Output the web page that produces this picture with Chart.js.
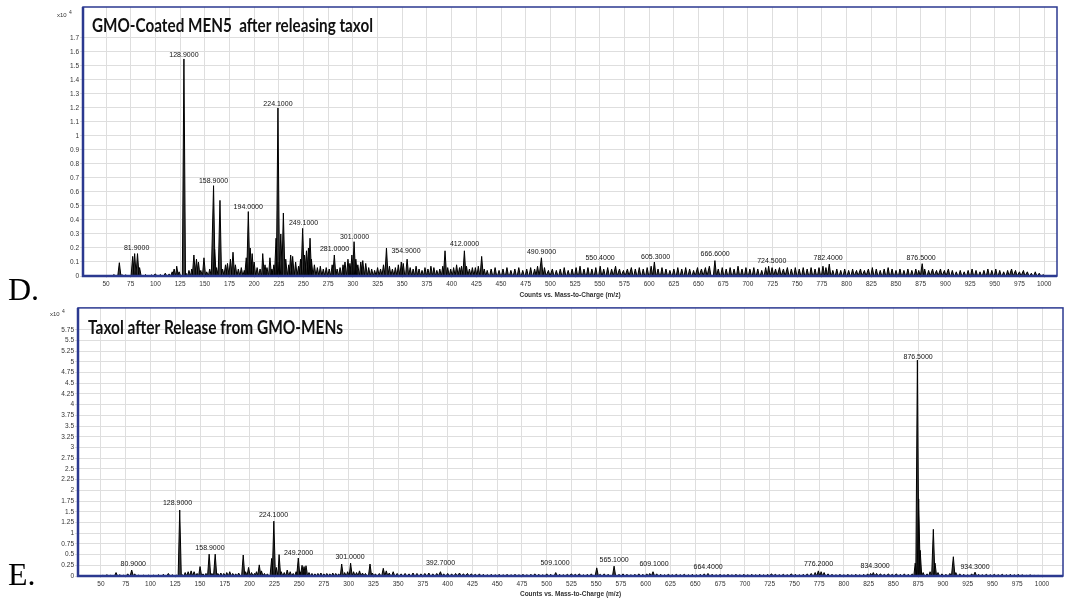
<!DOCTYPE html>
<html>
<head>
<meta charset="utf-8">
<script src="https://cdn.jsdelivr.net/npm/chart.js@4/dist/chart.umd.min.js"></script>
<style>
  body { margin: 0; background: #fff; width: 1066px; height: 607px; position: relative; overflow: hidden; }
  canvas { position: absolute; left: 0; }
  #chart_d { top: 0; }
  #chart_e { top: 303px; }
  .panel_tag { position: absolute; left: 8px; font-family: "Liberation Serif", serif; font-size: 32px; line-height: 32px; color: #000; }
</style>
</head>
<body>
<canvas id="chart_d" width="1066" height="303"></canvas>
<canvas id="chart_e" width="1066" height="304"></canvas>
<div class="panel_tag" style="top:273px">D.</div>
<div class="panel_tag" style="top:558px">E.</div>
<script>
// x axis ticks (m/z), same on both panels
const xTicks = [50, 75, 100, 125, 150, 175, 200, 225, 250, 275, 300, 325, 350, 375, 400, 425, 450, 475,
                500, 525, 550, 575, 600, 625, 650, 675, 700, 725, 750, 775, 800, 825, 850, 875, 900, 925, 950, 975, 1000];

// ---- D : GMO-Coated MEN5 after releasing taxol (counts x10^4) ----
const dYTicks = [0, 0.1, 0.2, 0.3, 0.4, 0.5, 0.6, 0.7, 0.8, 0.9, 1, 1.1, 1.2, 1.3, 1.4, 1.5, 1.6, 1.7];
const dMz = [52, 58, 63.5, 66, 70, 77, 79, 81.9, 84, 90, 96, 100, 105, 110, 114, 117, 119, 121.6, 124, 128.9,
  131, 134, 136.8, 139, 141.6, 143.6, 146, 149.2, 152, 155, 158.9, 160, 162, 165.4, 168, 171, 173, 176, 178.6, 181,
  184, 187, 190, 192, 194.1, 196, 198, 200, 203, 206, 208.7, 211, 213, 216, 218, 220, 222.2, 224.1, 225.5, 227,
  229.6, 232, 235, 237, 239, 242, 245, 247, 249.1, 251, 253, 255, 256.6, 258, 261, 264, 267, 270, 273, 276,
  279, 281.2, 284, 287, 290, 292, 295, 297, 299, 301.2, 303, 305, 308, 310, 313, 316, 319, 322, 325, 328,
  331, 334, 337, 340, 343, 346, 349, 351, 354.9, 358, 361, 364, 367, 370, 373, 376, 379, 382, 385, 388,
  391, 393.3, 396, 399, 402, 405, 408, 410, 412.9, 415, 418, 421, 424, 427, 430.4, 433, 436, 440, 444, 448,
  452, 456, 460, 464, 468, 472, 476, 480, 484, 487, 490.9, 494, 498, 502, 506, 510, 514, 518, 522, 526,
  530, 534, 538, 542, 546, 550.4, 554, 558, 562, 566, 570, 574, 578, 582, 586, 590, 594, 598, 602, 605.3,
  609, 613, 617, 621, 625, 629, 633, 637, 641, 645, 649, 653, 657, 661, 666.6, 670, 674, 678, 682, 686,
  690, 694, 698, 702, 706, 710, 714, 718, 721, 724.5, 728, 732, 736, 740, 744, 748, 752, 756, 760, 764,
  768, 772, 776, 779, 782.4, 786, 790, 794, 798, 802, 806, 810, 814, 818, 822, 826, 830, 834, 838, 842,
  846, 850, 854, 858, 862, 866, 870, 873, 876.5, 879, 883, 887, 891, 895, 899, 903, 907, 911, 915, 919,
  923, 927, 931, 935, 939, 943, 947, 951, 955, 959, 963, 967, 971, 975, 979, 983, 987, 991, 995, 999];
const dCounts = [0.005, 0.01, 0.095, 0.01, 0.008, 0.14, 0.16, 0.16, 0.06, 0.01, 0.008, 0.015, 0.01, 0.02, 0.015, 0.03, 0.05, 0.07, 0.03, 1.55,
  0.02, 0.04, 0.05, 0.15, 0.12, 0.1, 0.04, 0.13, 0.03, 0.05, 0.645, 0.19, 0.06, 0.54, 0.05, 0.08, 0.09, 0.12, 0.17, 0.08,
  0.05, 0.06, 0.04, 0.13, 0.46, 0.2, 0.16, 0.1, 0.06, 0.05, 0.16, 0.08, 0.06, 0.13, 0.05, 0.08, 0.27, 1.2, 0.1, 0.3,
  0.45, 0.12, 0.08, 0.15, 0.14, 0.1, 0.07, 0.12, 0.34, 0.15, 0.18, 0.2, 0.27, 0.12, 0.08, 0.06, 0.07, 0.05, 0.06, 0.05,
  0.08, 0.15, 0.05, 0.06, 0.08, 0.1, 0.12, 0.09, 0.15, 0.245, 0.12, 0.08, 0.1, 0.11, 0.09, 0.06, 0.05, 0.04, 0.06, 0.05,
  0.08, 0.2, 0.07, 0.05, 0.06, 0.08, 0.1, 0.09, 0.12, 0.06, 0.05, 0.07, 0.05, 0.04, 0.06, 0.05, 0.07, 0.06, 0.04, 0.05,
  0.07, 0.18, 0.06, 0.05, 0.06, 0.08, 0.06, 0.07, 0.18, 0.07, 0.05, 0.06, 0.06, 0.07, 0.14, 0.05, 0.04, 0.05, 0.06, 0.04,
  0.05, 0.06, 0.04, 0.05, 0.06, 0.04, 0.05, 0.06, 0.05, 0.07, 0.13, 0.06, 0.04, 0.05, 0.04, 0.05, 0.06, 0.04, 0.05, 0.06,
  0.07, 0.05, 0.06, 0.05, 0.06, 0.07, 0.05, 0.06, 0.05, 0.07, 0.05, 0.04, 0.05, 0.06, 0.05, 0.06, 0.05, 0.06, 0.07, 0.1,
  0.05, 0.06, 0.05, 0.04, 0.05, 0.06, 0.05, 0.06, 0.05, 0.04, 0.06, 0.05, 0.06, 0.07, 0.11, 0.05, 0.06, 0.05, 0.06, 0.05,
  0.07, 0.05, 0.06, 0.05, 0.06, 0.05, 0.04, 0.06, 0.07, 0.06, 0.05, 0.06, 0.05, 0.06, 0.05, 0.06, 0.05, 0.06, 0.05, 0.06,
  0.05, 0.06, 0.07, 0.06, 0.085, 0.04, 0.05, 0.04, 0.05, 0.04, 0.05, 0.04, 0.05, 0.04, 0.05, 0.06, 0.05, 0.04, 0.05, 0.06,
  0.05, 0.04, 0.05, 0.04, 0.05, 0.04, 0.05, 0.04, 0.088, 0.05, 0.04, 0.05, 0.04, 0.05, 0.04, 0.05, 0.04, 0.03, 0.04, 0.03,
  0.04, 0.05, 0.04, 0.03, 0.04, 0.05, 0.04, 0.05, 0.04, 0.03, 0.04, 0.05, 0.04, 0.03, 0.04, 0.03, 0.02, 0.03, 0.02, 0.01];
const dLabelText = ["81.9000", "128.9000", "158.9000", "194.0000", "224.1000", "249.1000", "281.0000", "301.0000", "354.9000",
  "412.0000", "490.9000", "550.4000", "605.3000", "666.6000", "724.5000", "782.4000", "876.5000"];
const dLabelMz = [81, 128.9, 158.9, 194, 224.1, 250, 281.4, 301.7, 353.8, 413, 491, 550.3, 606.6, 666.8, 724.2, 781.2, 875.4];
const dLabelY = [0.2, 1.58, 0.68, 0.49, 1.23, 0.38, 0.19, 0.28, 0.18, 0.23, 0.17, 0.13, 0.135, 0.16, 0.108, 0.13, 0.13];

// ---- E : Taxol after Release from GMO-MENs (counts x10^4) ----
const eYTicks = [0, 0.25, 0.5, 0.75, 1, 1.25, 1.5, 1.75, 2, 2.25, 2.5, 2.75, 3, 3.25, 3.5, 3.75, 4, 4.25, 4.5, 4.75,
  5, 5.25, 5.5, 5.75];
const eMz = [52, 56, 60, 65.2, 69, 73, 77, 81, 84, 88, 93, 98, 103, 108, 113, 118, 122, 126, 129.5, 132,
  135, 138, 141, 144, 147, 150, 153, 156, 159.2, 162, 165.3, 168, 171, 174, 177, 180, 183, 186, 189, 193.6,
  196, 199, 202, 205, 207, 209.8, 212, 215, 218, 222.3, 224.5, 227, 229.8, 232, 235, 238, 241, 244, 247, 249.2,
  251, 253, 255, 257, 260, 263, 266, 269, 272, 275, 278, 281, 284, 287, 290, 293, 296, 299, 302, 305,
  308, 311, 314, 317, 321.6, 324, 327, 331, 335, 338, 341, 345, 349, 353, 357, 361, 365, 369, 373, 377,
  381, 385, 389, 392.7, 396, 400, 404, 408, 412, 416, 420, 424, 428, 432, 436, 440, 444, 448, 452, 456,
  460, 464, 468, 472, 476, 480, 484, 488, 492, 496, 500, 504, 509.1, 513, 517, 521, 525, 529, 533, 537,
  541, 545, 550.5, 554, 558, 562, 568, 573, 577, 581, 585, 589, 593, 597, 601, 604, 607.3, 611, 615, 619,
  623, 627, 631, 635, 639, 643, 647, 651, 655, 659, 662.8, 667, 671, 675, 679, 683, 687, 691, 695, 699,
  703, 707, 711, 715, 719, 723, 727, 731, 735, 739, 743, 747, 751, 755, 759, 763, 767, 771, 774.2, 777,
  780, 784, 788, 792, 796, 800, 804, 808, 812, 816, 820, 824, 827, 829.7, 833, 837, 841, 845, 849, 853,
  857, 861, 865, 869, 872, 874.2, 875.5, 877, 880, 884, 887, 890.3, 892, 895, 899, 903, 907, 910.5, 913, 917,
  921, 925, 929, 932.4, 936, 940, 944, 948, 952, 956, 960, 964, 968, 972, 976, 980, 984, 988, 992, 996];
const eCounts = [0.02, 0.03, 0.02, 0.08, 0.03, 0.02, 0.05, 0.14, 0.05, 0.02, 0.02, 0.02, 0.02, 0.03, 0.04, 0.06, 0.03, 0.02, 1.54, 0.03,
  0.08, 0.1, 0.12, 0.1, 0.06, 0.22, 0.05, 0.06, 0.51, 0.06, 0.51, 0.06, 0.07, 0.06, 0.08, 0.1, 0.06, 0.05, 0.07, 0.49,
  0.1, 0.2, 0.08, 0.06, 0.1, 0.26, 0.12, 0.06, 0.05, 0.41, 1.28, 0.2, 0.5, 0.1, 0.08, 0.14, 0.1, 0.06, 0.1, 0.42,
  0.1, 0.25, 0.22, 0.24, 0.08, 0.06, 0.05, 0.06, 0.07, 0.05, 0.06, 0.05, 0.07, 0.06, 0.05, 0.28, 0.08, 0.1, 0.3, 0.1,
  0.08, 0.12, 0.07, 0.06, 0.28, 0.07, 0.05, 0.06, 0.18, 0.12, 0.07, 0.1, 0.06, 0.05, 0.06, 0.05, 0.07, 0.06, 0.05, 0.06,
  0.07, 0.05, 0.06, 0.1, 0.05, 0.06, 0.05, 0.06, 0.07, 0.05, 0.06, 0.05, 0.04, 0.05, 0.04, 0.03, 0.04, 0.03, 0.04, 0.03,
  0.04, 0.03, 0.04, 0.03, 0.04, 0.03, 0.04, 0.05, 0.04, 0.03, 0.05, 0.04, 0.08, 0.04, 0.03, 0.04, 0.05, 0.04, 0.05, 0.03,
  0.04, 0.05, 0.19, 0.04, 0.05, 0.04, 0.23, 0.04, 0.05, 0.04, 0.03, 0.04, 0.05, 0.04, 0.05, 0.06, 0.1, 0.05, 0.04, 0.03,
  0.04, 0.03, 0.04, 0.03, 0.04, 0.03, 0.04, 0.03, 0.04, 0.05, 0.06, 0.04, 0.03, 0.04, 0.03, 0.04, 0.03, 0.04, 0.03, 0.04,
  0.03, 0.04, 0.03, 0.04, 0.03, 0.04, 0.05, 0.04, 0.03, 0.04, 0.03, 0.05, 0.04, 0.03, 0.04, 0.05, 0.06, 0.08, 0.12, 0.1,
  0.08, 0.05, 0.04, 0.03, 0.04, 0.03, 0.04, 0.03, 0.04, 0.03, 0.04, 0.05, 0.06, 0.08, 0.06, 0.05, 0.04, 0.05, 0.04, 0.05,
  0.04, 0.05, 0.04, 0.05, 0.3, 5.04, 1.8, 0.6, 0.08, 0.05, 0.1, 1.09, 0.3, 0.08, 0.05, 0.04, 0.06, 0.45, 0.08, 0.05,
  0.04, 0.03, 0.05, 0.09, 0.04, 0.03, 0.04, 0.03, 0.04, 0.03, 0.04, 0.03, 0.04, 0.03, 0.04, 0.03, 0.02, 0.03, 0.02, 0.02];
const eLabelText = ["80.9000", "128.9000", "158.9000", "224.1000", "249.2000", "301.0000", "392.7000", "509.1000", "565.1000",
  "609.1000", "664.4000", "776.2000", "834.3000", "876.5000", "934.3000"];
const eLabelMz = [82.6, 127.3, 160, 224.2, 249.4, 301.4, 392.8, 508.4, 568, 608.3, 662.9, 774.4, 831.5, 874.9, 932.4];
const eLabelY = [0.28, 1.71, 0.65, 1.42, 0.53, 0.44, 0.3, 0.3, 0.37, 0.29, 0.22, 0.27, 0.24, 5.12, 0.22];

const frameColor = "#2b3990";

// each peak becomes a narrow stick (up and back down to the baseline)
function stick_points(mz, counts){
    let pts = [];
    for (let i = 0; i < mz.length; i++){
        pts.push({x: mz[i] - 1.6, y: 0});
        pts.push({x: mz[i],       y: counts[i]});
        pts.push({x: mz[i] + 1.6, y: 0});
    }
    return pts;
}

// labels, frame, panel title and the x10^4 marker
const spectrumDecor = {
    id: "spectrumDecor",
    afterDatasetsDraw(chart, args, opts){
        const ctx = chart.ctx;
        const a = chart.chartArea;
        const xs = chart.scales.x;
        const ys = chart.scales.y;
        ctx.save();

        ctx.fillStyle = "#111";
        ctx.font = '7px "Liberation Sans"';
        ctx.textAlign = "center";
        ctx.textBaseline = "middle";
        for (let i = 0; i < opts.labelText.length; i++){
            ctx.fillText(opts.labelText[i], xs.getPixelForValue(opts.labelMz[i]), ys.getPixelForValue(opts.labelY[i]));
        }

        ctx.strokeStyle = frameColor;
        ctx.lineWidth = 1.5;
        ctx.strokeRect(a.left, a.top, a.right - a.left, a.bottom - a.top);
        ctx.lineWidth = 2.5;
        ctx.beginPath();
        ctx.moveTo(a.left, a.top);
        ctx.lineTo(a.left, a.bottom);
        ctx.lineTo(a.right, a.bottom);
        ctx.stroke();

        // title, squeezed to the width it has in the figure
        ctx.fillStyle = "#111";
        ctx.font = "bold 18px Lato";
        ctx.textAlign = "left";
        ctx.textBaseline = "alphabetic";
        let w = ctx.measureText(opts.title).width;
        ctx.translate(a.left + opts.titleDx, a.top + opts.titleDy);
        ctx.scale(opts.titleWidth / w, 1);
        ctx.fillText(opts.title, 0, 0);
        ctx.restore();

        ctx.save();
        ctx.fillStyle = "#333";
        ctx.font = '6px "Liberation Sans"';
        ctx.textAlign = "left";
        ctx.textBaseline = "middle";
        ctx.fillText("x10", a.left + opts.unitDx, a.top + opts.unitDy);
        ctx.font = '5px "Liberation Sans"';
        ctx.fillText("4", a.left + opts.unitDx + 12, a.top + opts.unitDy - 2);
        ctx.restore();
    }
};

function draw_spectrum(canvasId, mz, counts, yTicks, cfg){
    const ctx = document.getElementById(canvasId).getContext("2d");
    return new Chart(ctx, {
        type: "line",
        data: {
            datasets: [{
                data: stick_points(mz, counts),
                borderColor: "#000",
                backgroundColor: "#3a3a3a",
                borderWidth: 1,
                fill: "origin",
                pointRadius: 0,
                tension: 0
            }]
        },
        options: {
            responsive: false,
            animation: false,
            devicePixelRatio: 1,
            layout: { padding: { left: 0, right: cfg.padRight, top: cfg.padTop, bottom: 0 } },
            scales: {
                x: {
                    type: "linear",
                    min: cfg.xMin,
                    max: cfg.xMax,
                    afterBuildTicks: (s) => { s.ticks = xTicks.map(v => ({ value: v })); },
                    afterFit: (s) => { s.height = cfg.xHeight; },
                    grid: { color: "#dedede", lineWidth: 1, tickLength: 2 },
                    border: { display: false },
                    ticks: { color: "#333", font: { family: "Liberation Sans", size: 6.5 }, padding: 2, maxRotation: 0, autoSkip: false,
                             callback: (v) => String(v) },
                    title: {
                        display: true,
                        text: "Counts vs. Mass-to-Charge (m/z)",
                        color: "#333",
                        font: { family: "Liberation Sans", size: 6.5, weight: "bold" },
                        padding: { top: 0, bottom: cfg.titlePad }
                    }
                },
                y: {
                    type: "linear",
                    min: 0,
                    max: cfg.yMax,
                    afterBuildTicks: (s) => { s.ticks = yTicks.map(v => ({ value: v })); },
                    afterFit: (s) => { s.width = cfg.yWidth; },
                    grid: { color: "#dedede", lineWidth: 1, tickLength: 3 },
                    border: { display: false },
                    ticks: { color: "#333", font: { family: "Liberation Sans", size: 6.5 }, padding: 1, autoSkip: false,
                             callback: (v) => String(v) }
                }
            },
            plugins: {
                legend: { display: false },
                tooltip: { enabled: false },
                spectrumDecor: cfg.decor
            }
        },
        plugins: [spectrumDecor]
    });
}

window.addEventListener("load", function(){
    draw_spectrum("chart_d", dMz, dCounts, dYTicks, {
        xMin: 26.7, xMax: 1013, yMax: 1.921,
        padRight: 9, padTop: 7, xHeight: 27, yWidth: 83, titlePad: 4,
        decor: { labelText: dLabelText, labelMz: dLabelMz, labelY: dLabelY,
                 title: "GMO-Coated MEN5  after releasing taxol", titleDx: 9, titleDy: 25, titleWidth: 281,
                 unitDx: -26, unitDy: 8 }
    });
    draw_spectrum("chart_e", eMz, eCounts, eYTicks, {
        xMin: 26.8, xMax: 1021.2, yMax: 6.26,
        padRight: 3, padTop: 4, xHeight: 31, yWidth: 78, titlePad: 9,
        decor: { labelText: eLabelText, labelMz: eLabelMz, labelY: eLabelY,
                 title: "Taxol after Release from GMO-MENs", titleDx: 10, titleDy: 26, titleWidth: 255,
                 unitDx: -28, unitDy: 6 }
    });
});
</script>
</body>
</html>
